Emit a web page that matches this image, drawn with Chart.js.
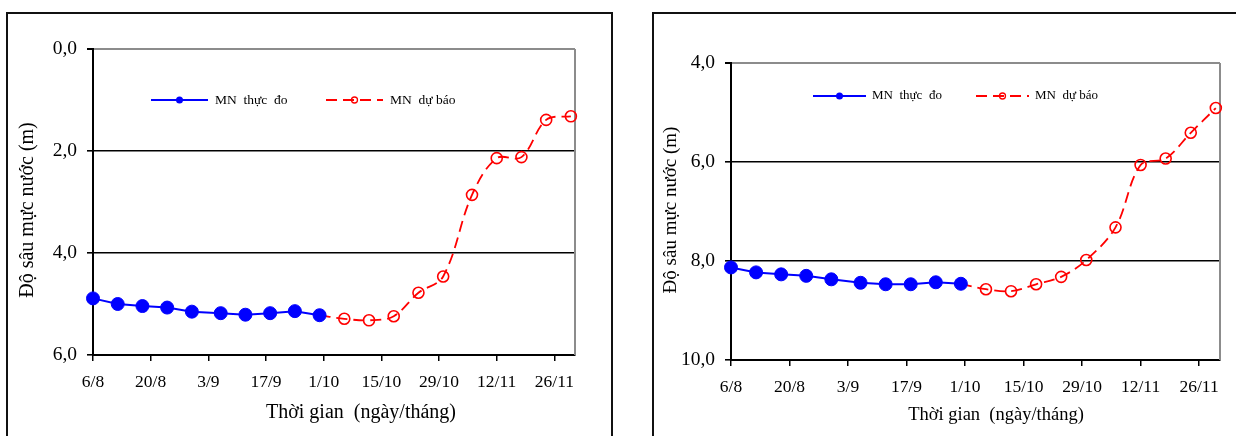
<!DOCTYPE html>
<html><head><meta charset="utf-8">
<script src="https://cdn.jsdelivr.net/npm/chart.js@4.4.0/dist/chart.umd.min.js"></script>
<style>
html,body{margin:0;padding:0;background:#fff;width:1236px;height:436px;overflow:hidden;position:relative}
.box{position:absolute;border:2px solid #111;box-sizing:border-box}
#b1{left:6px;top:12px;width:607px;height:440px}
#b2{left:652px;top:12px;width:700px;height:440px}
canvas{position:absolute;top:0}
#c1{left:0}
#c2{left:620px}
</style></head><body>
<div class="box" id="b1"></div><div class="box" id="b2"></div>
<canvas id="c1" width="620" height="436"></canvas>
<canvas id="c2" width="616" height="436"></canvas>
<script>
// ---- data ----
const xTickValues = [0, 14, 28, 42, 56, 70, 84, 98, 112];
const xTickLabels = ['6/8', '20/8', '3/9', '17/9', '1/10', '15/10', '29/10', '12/11', '26/11'];
const observedDates = ['6/8', '12/8', '18/8', '24/8', '30/8', '6/9', '12/9', '18/9', '24/9', '30/9'];
const forecastDates = ['6/10', '12/10', '18/10', '24/10', '30/10', '6/11', '12/11', '18/11', '24/11', '30/11'];
const seriesLabels = ['MN  thực  đo', 'MN  dự báo'];
const xAxisTitle = 'Thời gian  (ngày/tháng)';
const yAxisTitle = 'Độ sâu mực nước (m)';

// chart 1 (left)
const depthObserved1 = [4.89, 5.00, 5.04, 5.07, 5.15, 5.18, 5.21, 5.18, 5.14, 5.22];
const depthForecast1 = [5.29, 5.32, 5.24, 4.78, 4.46, 2.86, 2.14, 2.12, 1.39, 1.32];
const yTickValues1 = [0, 2, 4, 6];
const yTickLabels1 = ['0,0', '2,0', '4,0', '6,0'];

// chart 2 (right)
const depthObserved2 = [8.13, 8.23, 8.27, 8.30, 8.37, 8.44, 8.47, 8.47, 8.43, 8.46];
const depthForecast2 = [8.57, 8.61, 8.47, 8.32, 7.98, 7.32, 6.06, 5.93, 5.41, 4.91];
const yTickValues2 = [4, 6, 8, 10];
const yTickLabels2 = ['4,0', '6,0', '8,0', '10,0'];

const X_MAX = 117;
const FONT = '"Liberation Serif", "Times New Roman", serif';

function dayOf(s) {
  const [d, m] = s.split('/').map(Number);
  return (Date.UTC(2000, m - 1, d) - Date.UTC(2000, 7, 6)) / 86400000;
}

// ---- plugins ----
const frameLine = {
  id: 'frameLine',
  beforeDatasetsDraw(chart) {
    const a = chart.chartArea, ctx = chart.ctx;
    ctx.save();
    ctx.strokeStyle = '#8c8c8c'; ctx.lineWidth = 2;
    ctx.beginPath(); ctx.moveTo(a.right, a.top); ctx.lineTo(a.right, a.bottom); ctx.stroke();
    ctx.restore();
  }
};

const insideLegend = {
  id: 'insideLegend',
  afterDraw(chart, args, o) {
    const ctx = chart.ctx, a = chart.chartArea;
    ctx.save();
    ctx.font = o.fontSize + 'px ' + FONT;
    ctx.textBaseline = 'middle';
    ctx.textAlign = 'left';
    chart.data.datasets.forEach((ds, i) => {
      const x0 = a.left + o.x[i], y = a.top + o.y, L = o.len;
      ctx.strokeStyle = ds.borderColor; ctx.lineWidth = ds.borderWidth;
      ctx.setLineDash(ds.borderDash || []);
      ctx.beginPath(); ctx.moveTo(x0, y); ctx.lineTo(x0 + L, y); ctx.stroke();
      ctx.setLineDash([]);
      ctx.beginPath(); ctx.arc(x0 + L / 2, y, o.markerR[i], 0, Math.PI * 2);
      if (i === 0) { ctx.fillStyle = ds.borderColor; ctx.fill(); }
      else { ctx.lineWidth = 1.3; ctx.stroke(); }
      ctx.fillStyle = '#000';
      ctx.fillText(ds.label, x0 + L + o.gap, y);
    });
    ctx.restore();
  }
};

const axisTitles = {
  id: 'axisTitles',
  afterDraw(chart, args, o) {
    const ctx = chart.ctx;
    ctx.save();
    ctx.fillStyle = '#000';
    ctx.textAlign = 'center'; ctx.textBaseline = 'middle';
    ctx.font = o.xSize + 'px ' + FONT;
    ctx.fillText(xAxisTitle, o.xPos[0], o.xPos[1]);
    ctx.translate(o.yPos[0], o.yPos[1]);
    ctx.rotate(-Math.PI / 2);
    ctx.font = o.ySize + 'px ' + FONT;
    ctx.fillText(yAxisTitle, 0, 0);
    ctx.restore();
  }
};

function makeChart(id, observed, forecast, yVals, yLabels, lay) {
  const obsPts = observedDates.map((d, i) => ({ x: dayOf(d), y: observed[i] }));
  const fcPts = [obsPts[obsPts.length - 1]].concat(forecastDates.map((d, i) => ({ x: dayOf(d), y: forecast[i] })));
  return new Chart(document.getElementById(id), {
    type: 'line',
    data: {
      datasets: [
        {
          label: seriesLabels[0], data: obsPts,
          borderColor: '#0000ff', backgroundColor: '#0000ff', borderWidth: 2,
          pointRadius: 6.5, pointBackgroundColor: '#0000ff', pointBorderColor: '#0000ff', pointBorderWidth: 1,
          tension: 0, clip: false, order: 1
        },
        {
          label: seriesLabels[1], data: fcPts,
          borderColor: '#ff0000', backgroundColor: 'rgba(0,0,0,0)', borderWidth: 1.8, borderDash: [11, 6],
          pointRadius: c => c.dataIndex === 0 ? 0 : 5.5,
          pointBackgroundColor: 'rgba(0,0,0,0)', pointBorderColor: '#ff0000', pointBorderWidth: 1.6,
          tension: 0.35, clip: false, order: 2
        }
      ]
    },
    options: {
      responsive: false, animation: false, devicePixelRatio: 1,
      layout: { padding: { left: 0, top: lay.top, right: lay.right, bottom: 0 } },
      plugins: {
        legend: { display: false }, tooltip: { enabled: false },
        insideLegend: lay.legend,
        axisTitles: lay.titles
      },
      scales: {
        x: {
          type: 'linear', min: 0, max: X_MAX,
          afterBuildTicks: s => { s.ticks = xTickValues.map(v => ({ value: v })); },
          afterFit: s => { s.height = lay.xH; },
          ticks: {
            font: { family: FONT, size: 17.5 }, color: '#000', padding: 11,
            maxRotation: 0, autoSkip: false,
            callback: v => xTickLabels[xTickValues.indexOf(v)]
          },
          grid: { drawOnChartArea: false, tickLength: 6, tickColor: '#000', lineWidth: 1.5 },
          border: { color: '#000', width: 2 }
        },
        y: {
          type: 'linear', reverse: true, min: yVals[0], max: yVals[yVals.length - 1],
          afterBuildTicks: s => { s.ticks = yVals.map(v => ({ value: v })); },
          afterFit: s => { s.width = lay.yW; },
          ticks: {
            font: { family: FONT, size: 19.5 }, color: '#000', padding: 10,
            callback: v => yLabels[yVals.indexOf(v)]
          },
          grid: {
            color: c => (c.tick && c.tick.value === yVals[0]) ? '#8c8c8c' : '#000',
            lineWidth: c => (c.tick && c.tick.value === yVals[0]) ? 2 : 1.6,
            tickColor: '#000', tickLength: 6, drawOnChartArea: true
          },
          border: { color: '#000', width: 2 }
        }
      }
    },
    plugins: [frameLine, insideLegend, axisTitles]
  });
}

makeChart('c1', depthObserved1, depthForecast1, yTickValues1, yTickLabels1, {
  top: 49, right: 45, xH: 81, yW: 93,
  legend: { x: [58, 233], y: 51, len: 57, gap: 7, fontSize: 13.5, markerR: [3.5, 3] },
  titles: { xPos: [361, 413], yPos: [28, 210], xSize: 20, ySize: 20 }
});
makeChart('c2', depthObserved2, depthForecast2, yTickValues2, yTickLabels2, {
  top: 63, right: 16, xH: 76, yW: 111,
  legend: { x: [82, 245], y: 33, len: 53, gap: 6, fontSize: 13, markerR: [3.5, 3] },
  titles: { xPos: [376, 415], yPos: [51, 210], xSize: 18.5, ySize: 19 }
});
</script>
</body></html>
